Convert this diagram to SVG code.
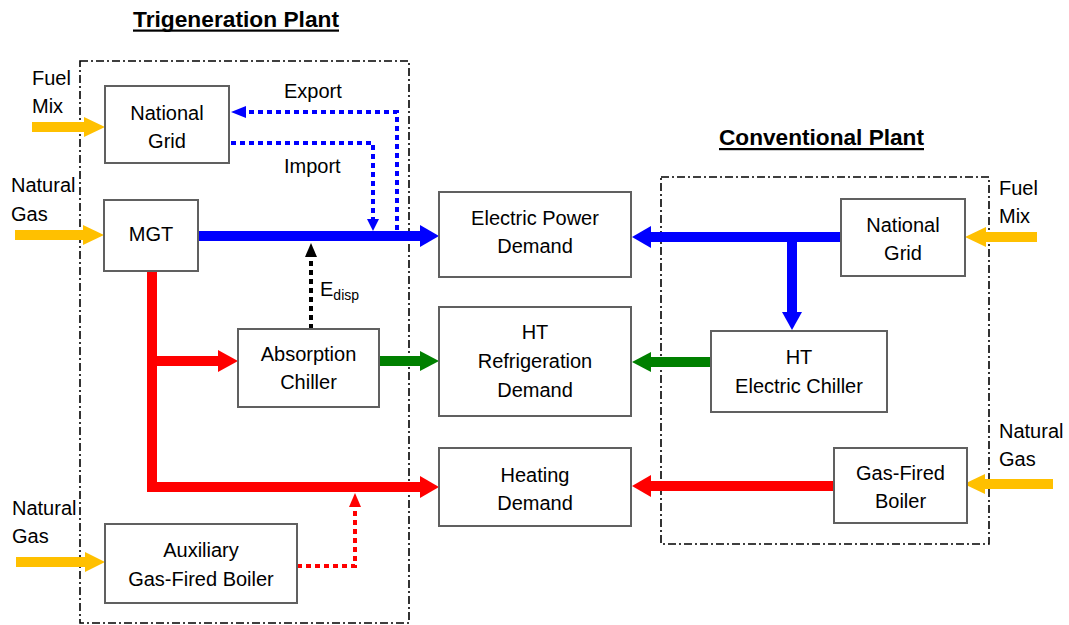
<svg xmlns="http://www.w3.org/2000/svg" width="1069" height="625" viewBox="0 0 1069 625">
<style>
text{font-family:"Liberation Sans",Arial,sans-serif;font-size:20px;fill:#000}
.c{text-anchor:middle}
.title{font-size:22px;font-weight:bold}
.box{fill:#fff;stroke:#606060;stroke-width:2}
.frame{fill:none;stroke:#000;stroke-width:1.6;stroke-dasharray:8 3 2 3}
.fat{fill:none;stroke-width:10}
.dot{fill:none;stroke-width:4;stroke-dasharray:5 4}
.b{stroke:#0000FF}.bf{fill:#0000FF}
.r{stroke:#FF0000}.rf{fill:#FF0000}
.g{stroke:#008000}.gf{fill:#008000}
.y{stroke:#FFC000}.yf{fill:#FFC000}
.k{stroke:#000}.kf{fill:#000}
</style>

<g id="frames">
  <rect class="frame" x="80" y="61" width="329" height="562"/>
  <rect class="frame" x="661" y="177" width="328" height="367"/>
</g>

<g id="titles">
  <text class="title" x="133" y="27" textLength="206" lengthAdjust="spacingAndGlyphs">Trigeneration Plant</text>
  <rect x="133" y="29.5" width="206" height="2.2"/>
  <text class="title" x="719" y="145" textLength="205" lengthAdjust="spacingAndGlyphs">Conventional Plant</text>
  <rect x="719" y="148" width="205" height="2.2"/>
</g>

<g id="connectors">
  <!-- yellow fuel inputs -->
  <path class="fat y" d="M32 127H86"/><polygon class="yf" points="84,117 105,127 84,137"/>
  <path class="fat y" d="M15 235H85"/><polygon class="yf" points="83,225 104,235 83,245"/>
  <path class="fat y" d="M16 562H87"/><polygon class="yf" points="85,552 105,562 85,572"/>
  <path class="fat y" d="M1037 237H984"/><polygon class="yf" points="986,227 965,237 986,247"/>
  <path class="fat y" d="M1053 484H983"/><polygon class="yf" points="985,474 964,484 985,494"/>

  <!-- blue electricity -->
  <path class="fat b" d="M198 236H422"/><polygon class="bf" points="420,225 439,236 420,247"/>
  <path class="fat b" d="M841 237H649"/><polygon class="bf" points="651,226 632,237 651,248"/>
  <path class="fat b" d="M792 237V314"/><polygon class="bf" points="782,312 792,330 802,312"/>

  <!-- blue dotted export / import -->
  <path class="dot b" d="M397 230V112H244"/><polygon class="bf" points="246,106 231,112 246,118"/>
  <path class="dot b" d="M231 143H373V220"/><polygon class="bf" points="367,219 373,231 379,219"/>

  <!-- E_disp -->
  <path class="dot k" d="M311 329V256" stroke-width="5"/><polygon class="kf" points="305,257 311,243 317,257"/>

  <!-- red heat -->
  <path class="fat r" d="M152 271V487H422" stroke-linejoin="miter"/><polygon class="rf" points="420,476 439,487 420,498"/>
  <path class="fat r" d="M152 361H220"/><polygon class="rf" points="218,350 238,361 218,372"/>
  <path class="fat r" d="M834 486H649"/><polygon class="rf" points="651,475 632,486 651,497"/>
  <path class="dot r" d="M297 566H355V506"/><polygon class="rf" points="349,507 355,493 361,507"/>

  <!-- green cooling -->
  <path class="fat g" d="M379 361H422"/><polygon class="gf" points="420,351 439,361 420,371"/>
  <path class="fat g" d="M711 362H649"/><polygon class="gf" points="651,352 632,362 651,372"/>
</g>

<g id="labels">
  <text x="32" y="85">Fuel</text><text x="32" y="113">Mix</text>
  <text x="11" y="192">Natural</text><text x="11" y="221">Gas</text>
  <text x="12" y="515">Natural</text><text x="12" y="543">Gas</text>
  <text x="999" y="195">Fuel</text><text x="999" y="223">Mix</text>
  <text x="999" y="438">Natural</text><text x="999" y="466">Gas</text>
  <text x="284" y="98">Export</text>
  <text x="284" y="173">Import</text>
  <text x="320" y="296">E<tspan font-size="14" dy="4">disp</tspan></text>
</g>

<g id="national-grid-trig">
  <rect class="box" x="105" y="86" width="124" height="77"/>
  <text class="c" x="167" y="120">National</text><text class="c" x="167" y="148">Grid</text>
</g>
<g id="mgt">
  <rect class="box" x="104" y="200" width="94" height="71"/>
  <text class="c" x="151" y="241">MGT</text>
</g>
<g id="absorption-chiller">
  <rect class="box" x="238" y="329" width="141" height="78"/>
  <text class="c" x="308.5" y="361">Absorption</text><text class="c" x="308.5" y="389">Chiller</text>
</g>
<g id="aux-boiler">
  <rect class="box" x="105" y="524" width="192" height="79"/>
  <text class="c" x="201" y="557">Auxiliary</text><text class="c" x="201" y="586">Gas-Fired Boiler</text>
</g>
<g id="electric-demand">
  <rect class="box" x="439" y="192" width="192" height="85"/>
  <text class="c" x="535" y="225">Electric Power</text><text class="c" x="535" y="253">Demand</text>
</g>
<g id="refrigeration-demand">
  <rect class="box" x="439" y="307" width="192" height="109"/>
  <text class="c" x="535" y="339">HT</text><text class="c" x="535" y="368">Refrigeration</text><text class="c" x="535" y="397">Demand</text>
</g>
<g id="heating-demand">
  <rect class="box" x="439" y="448" width="192" height="78"/>
  <text class="c" x="535" y="482">Heating</text><text class="c" x="535" y="510">Demand</text>
</g>
<g id="national-grid-conv">
  <rect class="box" x="841" y="199" width="124" height="77"/>
  <text class="c" x="903" y="232">National</text><text class="c" x="903" y="260">Grid</text>
</g>
<g id="ht-electric-chiller">
  <rect class="box" x="711" y="331" width="176" height="81"/>
  <text class="c" x="799" y="364">HT</text><text class="c" x="799" y="393">Electric Chiller</text>
</g>
<g id="gas-fired-boiler">
  <rect class="box" x="834" y="448" width="133" height="75"/>
  <text class="c" x="900.5" y="480">Gas-Fired</text><text class="c" x="900.5" y="508">Boiler</text>
</g>
</svg>
